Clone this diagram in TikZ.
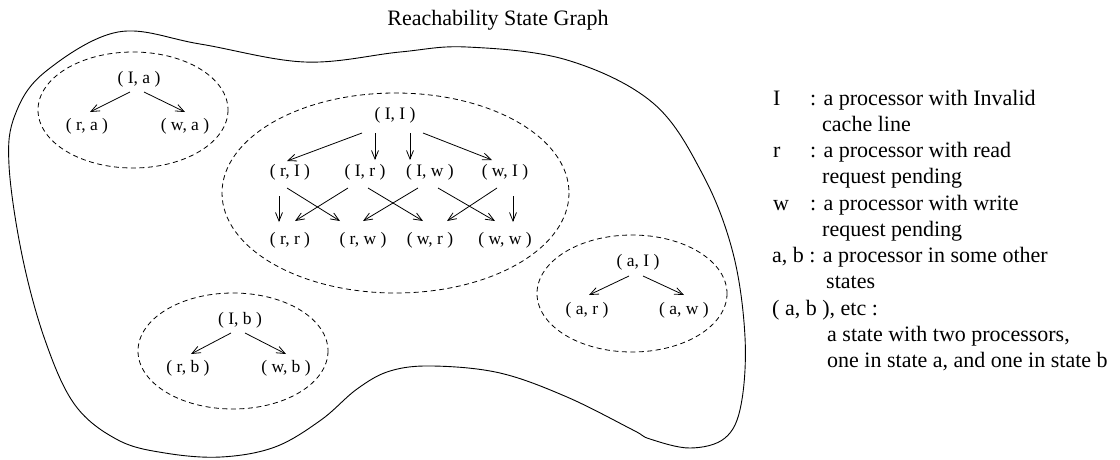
\documentclass[tikz,border=0pt]{standalone}
\usepackage{fontspec}
\setmainfont{Liberation Serif}
\usetikzlibrary{arrows.meta,calc}
\begin{document}
\begin{tikzpicture}[x=1pt,y=-1pt,
  lbl/.style={inner sep=0pt,font=\fontsize{17.5}{20}\selectfont},
  leg/.style={inner sep=0pt,anchor=base west,font=\fontsize{22}{26}\selectfont},
  arr/.style={line width=0.8pt,-{Straight Barb[length=8.5pt,width=7pt]}},
  grp/.style={line width=0.8pt,dash pattern=on 5pt off 3.5pt},
  blob/.style={line width=0.9pt}]
\useasboundingbox (0,0) rectangle (1120,459);

% title
\node[leg,anchor=base] (title) at (498,25) {Reachability State Graph};

% outer blob
\draw[blob] plot[smooth cycle,tension=0.6] coordinates {
 (118,32) (200,44) (305,62) (400,52) (467,47) (567,60) (653,103) (703,175)
 (733,253) (745,337) (741,405) (725,438) (690,448) (650,439) (633,430)
 (567,397) (500,373) (433,366) (390,371) (357,389) (321,420) (275,447)
 (221,457) (165,453) (118,440) (75,405) (45,340) (22,255) (9,165) (15,115) (45,72)};

% group ellipses
\draw[grp] (133,110) ellipse [x radius=95, y radius=58];
\draw[grp] (233,351) ellipse [x radius=95, y radius=58];
\draw[grp] (632,293.5) ellipse [x radius=95, y radius=58.5];
\draw[grp] (395.5,193) ellipse [x radius=173.5, y radius=100];

% group a
\node[lbl] (Ia) at (139,79) {( I, a )};
\node[lbl] (ra) at (87,126) {( r, a )};
\node[lbl] (wa) at (185,126) {( w, a )};
\draw[arr] ($(Ia)+(-9,13)$) -- ($(ra)+(3,-14)$);
\draw[arr] ($(Ia)+(5,13)$) -- ($(wa)+(0,-14)$);

% group b
\node[lbl] (Ib) at (240,320) {( I, b )};
\node[lbl] (rb) at (188,368) {( r, b )};
\node[lbl] (wb) at (286,368) {( w, b )};
\draw[arr] ($(Ib)+(-9,13)$) -- ($(rb)+(3,-14)$);
\draw[arr] ($(Ib)+(5,13)$) -- ($(wb)+(0,-14)$);

% group aI
\node[lbl] (aI) at (638,262) {( a, I )};
\node[lbl] (ar) at (587,310) {( a, r )};
\node[lbl] (aw) at (684,310) {( a, w )};
\draw[arr] ($(aI)+(-9,14)$) -- ($(ar)+(2,-15)$);
\draw[arr] ($(aI)+(5,14)$) -- ($(aw)+(0,-15)$);

% main group
\node[lbl] (II) at (395,115) {( I, I )};
\node[lbl] (rI) at (290,172) {( r, I )};
\node[lbl] (Ir) at (365,172) {( I, r )};
\node[lbl] (Iw) at (430,172) {( I, w )};
\node[lbl] (wI) at (505,172) {( w, I )};
\node[lbl] (rr) at (290,240) {( r, r )};
\node[lbl] (rw) at (363,240) {( r, w )};
\node[lbl] (wr) at (430,240) {( w, r )};
\node[lbl] (ww) at (505,240) {( w, w )};

\draw[arr] ($(II)+(-33,18)$) -- ($(rI)+(-3,-11)$);
\draw[arr] ($(II)+(-20,18)$) -- ($(Ir)+(10,-12)$);
\draw[arr] ($(II)+(15,18)$) -- ($(Iw)+(-20,-12)$);
\draw[arr] ($(II)+(28,18)$) -- ($(wI)+(-13,-12)$);

\draw[arr] ($(rI)+(-11,24)$) -- ($(rr)+(-11,-18)$);
\draw[arr] ($(rI)+(-3,16)$) -- ($(rw)+(-23,-19)$);
\draw[arr] ($(Ir)+(-17,16)$) -- ($(rr)+(5,-19)$);
\draw[arr] ($(Ir)+(3,16)$) -- ($(wr)+(-7,-19)$);
\draw[arr] ($(Iw)+(-12,16)$) -- ($(rw)+(0,-19)$);
\draw[arr] ($(Iw)+(8,16)$) -- ($(ww)+(-10,-19)$);
\draw[arr] ($(wI)+(-8,16)$) -- ($(wr)+(17,-19)$);
\draw[arr] ($(wI)+(8,24)$) -- ($(ww)+(8,-18)$);

% legend
\node[leg] (k1) at (773,105) {I};
\node[leg] (d1) at (810,105) {: a processor with Invalid};
\node[leg] (c1) at (822,131.25) {cache line};
\node[leg] (k2) at (773,157.5) {r};
\node[leg] (d2) at (810,157.5) {: a processor with read};
\node[leg] (c2) at (822,183.75) {request pending};
\node[leg] (k3) at (773,210) {w};
\node[leg] (d3) at (810,210) {: a processor with write};
\node[leg] (c3) at (822,236.25) {request pending};
\node[leg] (d4) at (772,262.5) {a, b : a processor in some other};
\node[leg] (c4) at (826,288.75) {states};
\node[leg] (d5) at (772,315) {( a, b ), etc :};
\node[leg] (c5) at (827,341.25) {a state with two processors,};
\node[leg] (c6) at (827,367.5) {one in state a, and one in state b};
\end{tikzpicture}
\end{document}
